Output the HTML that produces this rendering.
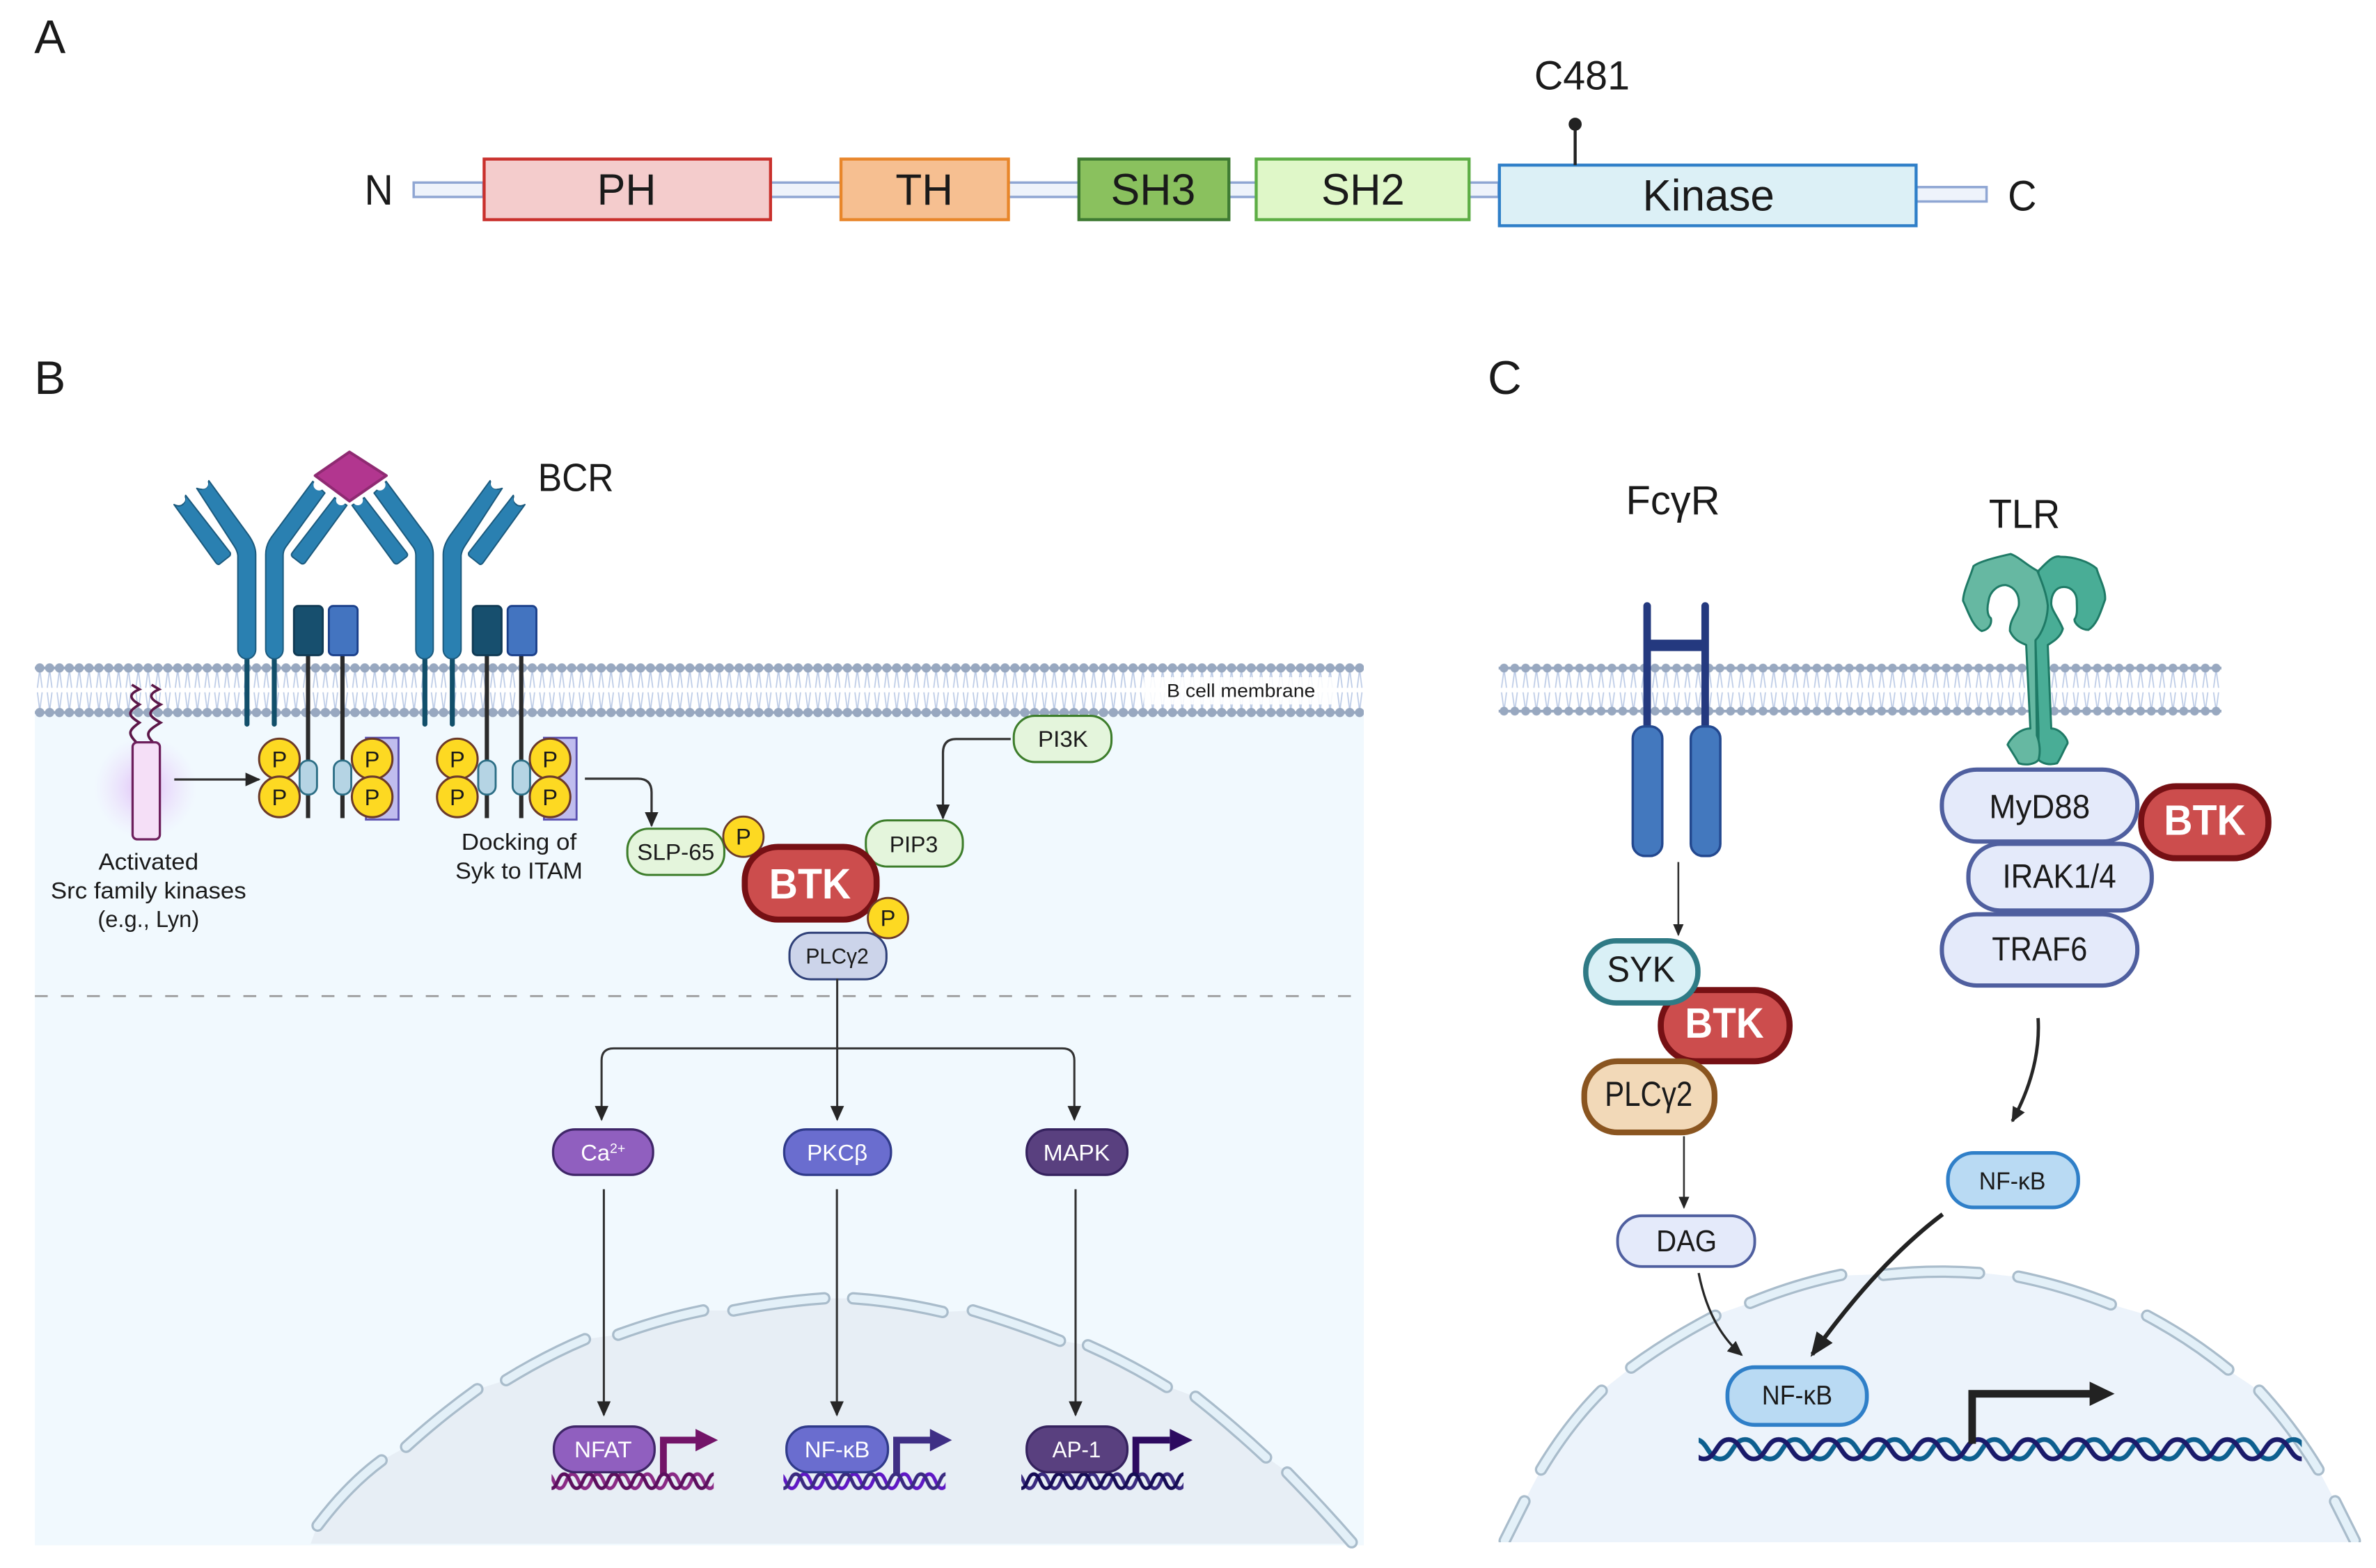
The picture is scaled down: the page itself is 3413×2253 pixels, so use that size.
<!DOCTYPE html>
<html><head><meta charset="utf-8"><title>BTK signalling</title>
<style>
html,body{margin:0;padding:0;background:#fff;overflow:hidden}
svg{display:block;width:3413px;height:2253px}
text{font-family:"Liberation Sans",Arial,sans-serif;fill:#1a1a1a;text-anchor:middle}
.w{fill:#fff}
.b{font-weight:bold;fill:#fff}
.p{font-size:15px}
</style></head><body>
<svg xmlns="http://www.w3.org/2000/svg" viewBox="0 0 1568 1035" preserveAspectRatio="none">
<defs>
<pattern id="mb" patternUnits="userSpaceOnUse" x="23" y="437" width="6.5" height="37">
<path d="M3.25 5 L1.7 17 M3.25 5 L4.8 17 M3.25 32 L1.7 20 M3.25 32 L4.8 20" stroke="#bccbe6" stroke-width=".8" fill="none"/>
<path d="M0 3.9H6.5M0 33.3H6.5" stroke="#98a8c0" stroke-width="1.800"/>
<circle cx="3.25" cy="3.9" r="3.050" fill="#98a8c0"/><circle cx="3.25" cy="33.3" r="3.050" fill="#98a8c0"/>
</pattern>
<pattern id="mc" patternUnits="userSpaceOnUse" x="989" y="437" width="7.12" height="37">
<path d="M3.56 5 L1.9 17 M3.56 5 L5.2 17 M3.56 32 L1.9 20 M3.56 32 L5.2 20" stroke="#bccbe6" stroke-width=".8" fill="none"/>
<path d="M0 4H7.12M0 32.4H7.12" stroke="#98a8c0" stroke-width="1.800"/>
<circle cx="3.56" cy="4" r="2.900" fill="#98a8c0"/><circle cx="3.56" cy="32.4" r="2.900" fill="#98a8c0"/>
</pattern>
<path id="w1" d="M-1 12.4H0C4.1 12.4 4.1 3 8.25 3S12.4 12.4 16.5 12.4H17.500" fill="none" stroke-width="2.300"/>
<pattern id="d1" patternUnits="userSpaceOnUse" x="364" y="970" width="16.500" height="16">
<use href="#w1" x="5.500" stroke="#8a2a85"/><use href="#w1" x="-11" stroke="#8a2a85"/><use href="#w1" stroke="#5c0f5e"/>
</pattern>
<pattern id="d2" patternUnits="userSpaceOnUse" x="517" y="970" width="16.500" height="16">
<use href="#w1" x="5.500" stroke="#5f18c4"/><use href="#w1" x="-11" stroke="#5f18c4"/><use href="#w1" stroke="#3a2a80"/>
</pattern>
<pattern id="d3" patternUnits="userSpaceOnUse" x="674" y="970" width="16.500" height="16">
<use href="#w1" x="5.500" stroke="#3a2a80"/><use href="#w1" x="-11" stroke="#3a2a80"/><use href="#w1" stroke="#160c55"/>
</pattern>
<path id="w2" d="M-1 17H0C8.200 17 8.200 4.200 16.450 4.200S24.700 17 32.900 17H33.900" fill="none" stroke-width="3.100"/>
<pattern id="d4" patternUnits="userSpaceOnUse" x="1124.450" y="946" width="32.900" height="21">
<use href="#w2" x="10.700" stroke="#0d5f8f"/><use href="#w2" x="-22.200" stroke="#0d5f8f"/><use href="#w2" stroke="#1a1a6a"/>
</pattern>
<marker id="a" markerUnits="userSpaceOnUse" markerWidth="10" markerHeight="9" viewBox="0 0 10 9" refX="9" refY="4.500" orient="auto"><path d="M0 0L10 4.500L0 9Z" fill="#262626"/></marker>
<marker id="s" markerUnits="userSpaceOnUse" markerWidth="8" markerHeight="7" viewBox="0 0 8 7" refX="7" refY="3.500" orient="auto"><path d="M0 0L8 3.500L0 7Z" fill="#262626"/></marker>
<marker id="g" markerUnits="userSpaceOnUse" markerWidth="16" markerHeight="13" viewBox="0 0 16 13" refX="14" refY="6.500" orient="auto"><path d="M0 0L16 6.500L0 13Z" fill="#222"/></marker>
<radialGradient id="glow"><stop offset="0" stop-color="#d9a8f5" stop-opacity=".75"/><stop offset="1" stop-color="#e8d0fa" stop-opacity="0"/></radialGradient>
<g id="halfbcr" fill="#2a80b1" stroke="#1b5a7e" stroke-width="6" stroke-linejoin="round">
<path d="M30 255Q60 270 75 245L80 215L272 462Q275 472 268 478L225 512Q218 515 210 505Z"/>
<path d="M128 185Q155 195 172 178L180 152L350 385Q382 430 382 470V880A38.500 40 0 0 1 305 880V475Q303 455 290 435Z"/>
<path d="M425 880V470Q425 430 450 395L628 155L680 205L510 440Q500 455 500 475V880A37.500 40 0 0 1 425 880Z"/>
<path d="M722 225L775 258L595 505Q585 515 575 507L540 480Q532 472 540 462Z"/>
</g>
</defs>

<!-- Panel A -->
<text x="33" y="35" font-size="31">A</text>
<g fill="#eef3fb" stroke="#8fa6d3" stroke-width="1.600">
<rect x="273" y="120.500" width="46" height="9.500"/><rect x="508" y="120.500" width="47" height="9.500"/>
<rect x="665" y="120.500" width="47" height="9.500"/><rect x="811" y="120.500" width="18" height="9.500"/>
<rect x="969" y="120.500" width="20" height="9.500"/><rect x="1264" y="123.500" width="47" height="9.500"/>
</g>
<g stroke-width="2">
<rect x="319.500" y="105" width="189" height="40" fill="#f4cccc" stroke="#c9302c"/>
<rect x="555" y="105" width="110.500" height="40" fill="#f6bf91" stroke="#e8862a"/>
<rect x="712" y="105" width="99" height="40" fill="#8ac15e" stroke="#3e7a32"/>
<rect x="829" y="105" width="140.500" height="40" fill="#dff7c8" stroke="#5dad45"/>
<rect x="989.500" y="109" width="275" height="40" fill="#dcf0f6" stroke="#2f7fc8"/>
</g>
<line x1="1039.500" y1="109" x2="1039.500" y2="82" stroke="#222" stroke-width="2"/>
<circle cx="1039.500" cy="82" r="4.300" fill="#222"/>
<text x="250" y="135" font-size="28" textLength="19" lengthAdjust="spacingAndGlyphs">N</text>
<text x="413.500" y="135" font-size="29" textLength="39" lengthAdjust="spacingAndGlyphs">PH</text>
<text x="610" y="135" font-size="29" textLength="38" lengthAdjust="spacingAndGlyphs">TH</text>
<text x="761" y="135" font-size="29" textLength="56" lengthAdjust="spacingAndGlyphs">SH3</text>
<text x="899.500" y="135" font-size="29" textLength="55" lengthAdjust="spacingAndGlyphs">SH2</text>
<text x="1127.500" y="139" font-size="29" textLength="87" lengthAdjust="spacingAndGlyphs">Kinase</text>
<text x="1334.500" y="139" font-size="28" textLength="19" lengthAdjust="spacingAndGlyphs">C</text>
<text x="1044" y="59" font-size="27" textLength="63" lengthAdjust="spacingAndGlyphs">C481</text>

<!-- Panel B -->
<text x="33" y="260" font-size="31">B</text>
<rect x="23" y="470" width="877" height="550" fill="#f1f9fe"/>
<polygon fill="#e7eef5" points="205,1019 209,1008 230,985 252,964 268,955 290,935 315,917 334,911 360,896 386,884 408,881 435,872 464,865 484,865 514,862 544,857 563,857 592,862 622,866 642,865 671,874 700,885 718,888 744,901 770,915 789,922 812,941 836,962 850,972 871,995 894,1019"/>
<line x1="23" y1="657.500" x2="895" y2="657.500" stroke="#9a9a9a" stroke-width="1.300" stroke-dasharray="8.500 8.700"/>
<g fill="none" stroke-linecap="round">
<path stroke="#a9bccb" stroke-width="8.200" d="M209.600 1007Q230 980 251.800 964M268 955Q290 935 315 917M334 911Q360 895 386 884M408 881Q435 871 464 865M484 865Q515 859 544 857M563 857Q592 859 622 866M642 865Q672 874 699.500 885M718 888Q745 900 770 915.500M789 922Q813 941 835.500 962M849.500 972Q872 995 892 1018"/>
<path stroke="#e3f0f8" stroke-width="5.200" d="M209.600 1007Q230 980 251.800 964M268 955Q290 935 315 917M334 911Q360 895 386 884M408 881Q435 871 464 865M484 865Q515 859 544 857M563 857Q592 859 622 866M642 865Q672 874 699.500 885M718 888Q745 900 770 915.500M789 922Q813 941 835.500 962M849.500 972Q872 995 892 1018"/>
</g>
<rect x="23" y="437" width="877" height="37" fill="#fff"/>
<rect x="23" y="470.500" width="877" height="3.500" fill="#f1f9fe"/>
<rect x="23" y="437" width="877" height="37" fill="url(#mb)"/>
<rect x="755" y="447" width="125" height="18" fill="#fff" opacity=".88"/>
<text x="819" y="460" font-size="12.500" textLength="98" lengthAdjust="spacingAndGlyphs">B cell membrane</text>

<!-- BCR -->
<g stroke="#124f6a" stroke-width="3.300" stroke-linecap="round">
<line x1="163" y1="432" x2="163" y2="478"/><line x1="181" y1="432" x2="181" y2="478"/>
<line x1="280.400" y1="432" x2="280.400" y2="478"/><line x1="298.500" y1="432" x2="298.500" y2="478"/>
</g>
<g transform="translate(110.260 294.030) scale(.15314)">
<use href="#halfbcr"/>
<use href="#halfbcr" transform="matrix(-1 0 0 1 1572 0)"/>
<g fill="#fff">
<circle cx="155" cy="165" r="22"/><circle cx="58" cy="232" r="20"/><circle cx="1417" cy="165" r="22"/><circle cx="1514" cy="232" r="20"/>
<circle cx="655" cy="170" r="24"/><circle cx="750" cy="236" r="22"/><circle cx="822" cy="236" r="22"/><circle cx="917" cy="170" r="24"/>
</g>
<path d="M786 28L945 130L786 240L638 130Z" fill="#b2368f" stroke="#8f2a72" stroke-width="12" stroke-linejoin="round"/>
</g>
<g stroke="#2b2b2b" stroke-width="2.800">
<line x1="203.300" y1="432" x2="203.300" y2="540"/><line x1="226" y1="432" x2="226" y2="540"/>
<line x1="321.300" y1="432" x2="321.300" y2="540"/><line x1="344" y1="432" x2="344" y2="540"/>
</g>
<g stroke-width="1.300">
<rect x="194" y="400" width="19" height="32.500" rx="2.800" fill="#174f6e" stroke="#103a54"/>
<rect x="217" y="400" width="19" height="32.500" rx="2.800" fill="#4374c0" stroke="#1a3f8a"/>
<rect x="312" y="400" width="19" height="32.500" rx="2.800" fill="#174f6e" stroke="#103a54"/>
<rect x="335" y="400" width="19" height="32.500" rx="2.800" fill="#4374c0" stroke="#1a3f8a"/>
<rect x="241.500" y="487" width="21.500" height="54" fill="#c0bdee" stroke="#5a4fb0"/>
<rect x="359" y="487" width="21.500" height="54" fill="#c0bdee" stroke="#5a4fb0"/>
<g fill="#b5d4e4" stroke="#2c6e85">
<rect x="197.700" y="502" width="11.500" height="22.500" rx="5.500"/><rect x="220.300" y="502" width="11.500" height="22.500" rx="5.500"/>
<rect x="315.600" y="502" width="11.500" height="22.500" rx="5.500"/><rect x="338.300" y="502" width="11.500" height="22.500" rx="5.500"/>
</g>
</g>
<g fill="#fdd922" stroke="#6b3a2a" stroke-width="1.400">
<circle cx="184.400" cy="501" r="13.400"/><circle cx="184.400" cy="526" r="13.400"/>
<circle cx="245.600" cy="501" r="13.400"/><circle cx="245.600" cy="526" r="13.400"/>
<circle cx="301.800" cy="501" r="13.400"/><circle cx="301.800" cy="526" r="13.400"/>
<circle cx="363" cy="501" r="13.400"/><circle cx="363" cy="526" r="13.400"/>
</g>
<g class="p">
<text x="184.400" y="506.500">P</text><text x="184.400" y="531.500">P</text>
<text x="245.600" y="506.500">P</text><text x="245.600" y="531.500">P</text>
<text x="301.800" y="506.500">P</text><text x="301.800" y="531.500">P</text>
<text x="363" y="506.500">P</text><text x="363" y="531.500">P</text>
</g>
<!-- Src -->
<circle cx="96" cy="520" r="34" fill="url(#glow)"/>
<path d="M90 490C84 484 85 482 92 477C84 472 84 470 92 465C85 461 85 458 92 455L87 452M101 490C95 484 98 482 106 477C97 472 97 470 106 465C98 461 98 458 105 455L100 452" fill="none" stroke="#5c1748" stroke-width="1.700"/>
<rect x="87.500" y="490" width="18" height="64" rx="3" fill="#f5dff7" stroke="#6d1f5c" stroke-width="1.500"/>
<line x1="115" y1="514.500" x2="171" y2="514.500" stroke="#333" stroke-width="1.500" marker-end="url(#a)"/>
<path d="M386 514H421Q430 514 430 523V545" fill="none" stroke="#333" stroke-width="1.500" marker-end="url(#a)"/>
<text x="98" y="574" font-size="15.500" textLength="66" lengthAdjust="spacingAndGlyphs">Activated</text>
<text x="98" y="593" font-size="15.500" textLength="129" lengthAdjust="spacingAndGlyphs">Src family kinases</text>
<text x="98" y="612" font-size="15.500" textLength="67" lengthAdjust="spacingAndGlyphs">(e.g., Lyn)</text>
<text x="342.500" y="561" font-size="15.500" textLength="76" lengthAdjust="spacingAndGlyphs">Docking of</text>
<text x="342.500" y="580" font-size="15.500" textLength="84" lengthAdjust="spacingAndGlyphs">Syk to ITAM</text>
<text x="380" y="324" font-size="26" textLength="50" lengthAdjust="spacingAndGlyphs">BCR</text>

<!-- B centre -->
<path d="M667 487.800H631Q622.300 487.800 622.300 497V540" fill="none" stroke="#333" stroke-width="1.500" marker-end="url(#a)"/>
<g fill="#e4f5dc" stroke="#3d7d2b" stroke-width="1.400">
<rect x="414" y="547" width="64" height="30.500" rx="14"/>
<rect x="669" y="472.500" width="64.500" height="30.500" rx="14"/>
<rect x="571.400" y="541.500" width="64" height="30.500" rx="14"/>
</g>
<rect x="521" y="615.700" width="64" height="30.700" rx="14" fill="#ccd4ea" stroke="#2f4078" stroke-width="1.400"/>
<circle cx="490.600" cy="552.300" r="13.300" fill="#fdd922" stroke="#6b3a2a" stroke-width="1.300"/>
<rect x="491.500" y="559" width="87" height="48" rx="22" fill="#cc4d4d" stroke="#761014" stroke-width="4"/>
<circle cx="586" cy="606" r="13.300" fill="#fdd922" stroke="#6b3a2a" stroke-width="1.300"/>
<text x="490.600" y="557.500" class="p">P</text><text x="586" y="611.200" class="p">P</text>
<text x="446" y="567.500" font-size="15" textLength="51" lengthAdjust="spacingAndGlyphs">SLP-65</text>
<text x="701.500" y="493" font-size="15" textLength="33" lengthAdjust="spacingAndGlyphs">PI3K</text>
<text x="603" y="562.500" font-size="15" textLength="32" lengthAdjust="spacingAndGlyphs">PIP3</text>
<text x="552.500" y="636" font-size="14.500" textLength="41.500" lengthAdjust="spacingAndGlyphs">PLCγ2</text>
<text x="534.500" y="593" font-size="28" class="b" textLength="54" lengthAdjust="spacingAndGlyphs">BTK</text>

<g fill="none" stroke="#333" stroke-width="1.400">
<line x1="552.500" y1="646" x2="552.500" y2="739" marker-end="url(#a)"/>
<path d="M552.500 692H405Q397 692 397 700V739" marker-end="url(#a)"/>
<path d="M552.500 692H701Q709 692 709 700V739" marker-end="url(#a)"/>
<line x1="398.500" y1="785" x2="398.500" y2="934" marker-end="url(#a)"/>
<line x1="552.300" y1="785" x2="552.300" y2="934" marker-end="url(#a)"/>
<line x1="709.800" y1="785" x2="709.800" y2="934" marker-end="url(#a)"/>
</g>

<!-- promoters -->
<g fill="none" stroke-width="4.500">
<path d="M437.800 974V950.600H460" stroke="#731468"/><path d="M591.700 974V950.600H614" stroke="#3f2f85"/><path d="M749.600 974V950.600H772" stroke="#2d0a60"/>
</g>
<polygon points="459,943.200 473.800,950.600 459,958" fill="#731468"/>
<polygon points="613.700,943.200 628.200,950.600 613.700,958" fill="#3f2f85"/>
<polygon points="772,943.200 787,950.600 772,958" fill="#2d0a60"/>
<!-- DNA B -->
<rect x="364" y="970" width="107" height="16" fill="url(#d1)"/>
<rect x="517" y="970" width="107" height="16" fill="url(#d2)"/>
<rect x="674" y="970" width="107" height="16" fill="url(#d3)"/>
<g stroke-width="1.500">
<g fill="#905fbf" stroke="#3f2668"><rect x="365" y="745.500" width="66" height="30" rx="14.500"/><rect x="365.500" y="941.600" width="66.500" height="30.200" rx="14.500"/></g>
<g fill="#6a6dcf" stroke="#2f3a8a"><rect x="517.500" y="745.500" width="70.500" height="30" rx="14.500"/><rect x="519" y="941.600" width="67" height="30.200" rx="14.500"/></g>
<g fill="#59407f" stroke="#35225e"><rect x="677.500" y="745.500" width="66.500" height="30" rx="14.500"/><rect x="677.500" y="941.600" width="66.500" height="30.200" rx="14.500"/></g>
</g>
<g font-size="15">
<text x="398" y="766" class="w">Ca<tspan font-size="9" dy="-5">2+</tspan></text>
<text x="552.500" y="766" class="w" textLength="40" lengthAdjust="spacingAndGlyphs">PKCβ</text>
<text x="710.500" y="766" class="w" textLength="44" lengthAdjust="spacingAndGlyphs">MAPK</text>
<text x="398" y="962" class="w" textLength="38" lengthAdjust="spacingAndGlyphs">NFAT</text>
<text x="552.500" y="962" class="w" textLength="43" lengthAdjust="spacingAndGlyphs">NF-κB</text>
<text x="710.500" y="962" class="w" textLength="32" lengthAdjust="spacingAndGlyphs">AP-1</text>
</g>

<!-- Panel C -->
<text x="993" y="260" font-size="31">C</text>
<polygon fill="#ecf3fb" points="991,1018 1006,991 1017,970 1057,918 1076,903 1132,868 1155,860 1215,842 1243,841 1275,838 1306,840 1332,843 1393,861 1417,868 1470,904 1491,918 1530,970 1541,991 1556,1018"/>
<g fill="none" stroke-linecap="round">
<path stroke="#a9bccb" stroke-width="8.200" d="M1006 991L993 1017M1017 970Q1035 940 1057 918M1076.500 902.700Q1102 884 1132 868.500M1155 860Q1184 848 1215 841.500M1243 841.500Q1275 838 1306 840.300M1332 842.700Q1363 849 1393 861M1417 868.500Q1446 884 1470.500 904M1491 918Q1513 942 1530 970M1541 991L1554 1017"/>
<path stroke="#e3f0f8" stroke-width="5.200" d="M1006 991L993 1017M1017 970Q1035 940 1057 918M1076.500 902.700Q1102 884 1132 868.500M1155 860Q1184 848 1215 841.500M1243 841.500Q1275 838 1306 840.300M1332 842.700Q1363 849 1393 861M1417 868.500Q1446 884 1470.500 904M1491 918Q1513 942 1530 970M1541 991L1554 1017"/>
</g>
<rect x="985" y="1018" width="580" height="17" fill="#fff"/>
<rect x="989" y="437" width="477" height="37" fill="url(#mc)"/>

<text x="1104" y="339.500" font-size="27" textLength="62" lengthAdjust="spacingAndGlyphs">FcγR</text>
<text x="1336" y="348.500" font-size="27" textLength="47" lengthAdjust="spacingAndGlyphs">TLR</text>

<!-- FcgR -->
<path d="M1087 400V482M1125.300 400V482" stroke="#24397f" stroke-width="5" stroke-linecap="round" fill="none"/>
<line x1="1087" y1="426" x2="1125.300" y2="426" stroke="#24397f" stroke-width="7.500"/>
<rect x="1077.500" y="479.500" width="19.500" height="85.500" rx="8" fill="#4378be" stroke="#23488f" stroke-width="1.600"/>
<rect x="1115.800" y="479.500" width="19.500" height="85.500" rx="8" fill="#4378be" stroke="#23488f" stroke-width="1.600"/>
<line x1="1107.600" y1="569" x2="1107.600" y2="617" stroke="#333" stroke-width="1.200" marker-end="url(#s)"/>

<rect x="1096" y="653.500" width="85" height="47" rx="23" fill="#cc4d4d" stroke="#761014" stroke-width="4"/>
<rect x="1046.500" y="621" width="74" height="41" rx="20" fill="#d9f0f6" stroke="#2f7a85" stroke-width="3.500"/>
<rect x="1045.500" y="700.500" width="86" height="47" rx="22" fill="#f2d9b8" stroke="#8a5520" stroke-width="3.800"/>
<text x="1083" y="648" font-size="24" textLength="45" lengthAdjust="spacingAndGlyphs">SYK</text>
<text x="1138" y="685" font-size="28" class="b" textLength="52" lengthAdjust="spacingAndGlyphs">BTK</text>
<text x="1088" y="730" font-size="23" textLength="58" lengthAdjust="spacingAndGlyphs">PLCγ2</text>
<line x1="1111.300" y1="750" x2="1111.300" y2="797" stroke="#333" stroke-width="1.200" marker-end="url(#s)"/>
<rect x="1067.500" y="802.500" width="90.500" height="33.500" rx="16" fill="#e4eafa" stroke="#4f5f9f" stroke-width="1.800"/>
<text x="1113" y="826" font-size="20" textLength="40" lengthAdjust="spacingAndGlyphs">DAG</text>
<path d="M1121 840.300Q1128 876 1149.400 894.400" fill="none" stroke="#262626" stroke-width="1.500" marker-end="url(#a)"/>

<!-- TLR -->
<g transform="translate(1286.300 358.340) scale(.15314)" stroke="#1f7a66" stroke-width="9" stroke-linejoin="round">
<path fill="#49ad96" d="M385 120C420 85 450 50 480 60C540 60 600 80 635 110C650 160 675 200 672 245C655 290 640 350 600 375C570 375 540 350 540 330C555 310 550 280 550 250C550 215 525 190 495 190C460 190 440 220 440 260C440 290 470 320 490 370C480 410 440 430 425 440L440 800C480 800 515 850 510 865C490 900 480 930 465 950C430 960 400 950 385 935L385 800L372 420Z"/>
<path fill="#66b8a2" d="M380 120C340 100 300 60 265 48C210 60 130 80 105 100C90 150 60 210 60 250C80 290 100 360 140 380C170 375 185 350 180 325C160 310 165 270 170 250C175 210 210 180 245 182C280 190 305 220 300 270C295 300 260 330 262 380C280 420 310 430 332 440L350 800C300 800 260 850 252 870C270 900 290 930 300 950C330 960 370 955 385 935C395 900 390 860 378 830L372 420C400 390 425 330 425 270C420 220 400 170 380 120Z"/>
</g>
<g fill="#e4eafa" stroke="#4f5f9f" stroke-width="2.800">
<rect x="1281.500" y="508" width="129" height="47.500" rx="23"/>
<rect x="1299" y="557" width="121" height="44" rx="21"/>
<rect x="1281.500" y="603.500" width="129" height="47" rx="23"/>
</g>
<rect x="1413" y="519" width="84" height="47.500" rx="23" fill="#cc4d4d" stroke="#761014" stroke-width="4"/>
<text x="1346" y="540" font-size="22" textLength="66.500" lengthAdjust="spacingAndGlyphs">MyD88</text>
<text x="1359" y="586" font-size="22" textLength="75" lengthAdjust="spacingAndGlyphs">IRAK1/4</text>
<text x="1346" y="634" font-size="22" textLength="63" lengthAdjust="spacingAndGlyphs">TRAF6</text>
<text x="1455" y="551" font-size="28" class="b" textLength="54" lengthAdjust="spacingAndGlyphs">BTK</text>

<path d="M1345 672Q1347 705 1328 740" fill="none" stroke="#262626" stroke-width="2.200" marker-end="url(#a)"/>
<rect x="1285.500" y="761" width="86" height="36" rx="17" fill="#b9daf3" stroke="#2f7fc8" stroke-width="2.400"/>
<text x="1328" y="785" font-size="16" textLength="44" lengthAdjust="spacingAndGlyphs">NF-κB</text>
<path d="M1282 801.500Q1239 834 1196 894" fill="none" stroke="#222" stroke-width="2.800" marker-end="url(#g)"/>
<rect x="1140" y="902.500" width="92" height="38" rx="18" fill="#b9daf3" stroke="#2f7fc8" stroke-width="2.600"/>
<text x="1186" y="927" font-size="18" textLength="46.500" lengthAdjust="spacingAndGlyphs">NF-κB</text>

<!-- DNA C -->
<rect x="1121" y="946" width="398" height="21" fill="url(#d4)"/>
<path d="M1301.500 953V920H1381" fill="none" stroke="#222" stroke-width="5"/>
<polygon points="1379,912 1395.500,920 1379,928" fill="#222"/>
</svg>
</body></html>
